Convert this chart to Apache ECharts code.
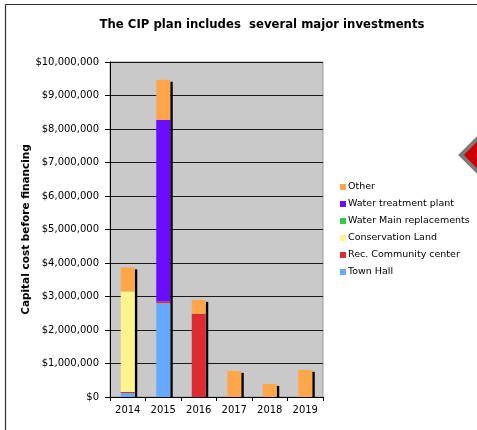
<!DOCTYPE html>
<html>
<head>
<meta charset="utf-8">
<script src="https://cdn.jsdelivr.net/npm/echarts@6/dist/echarts.min.js"></script>
<style>
  html, body { margin: 0; padding: 0; background: #fff; }
  #chart { width: 477px; height: 430px; }
</style>
</head>
<body>
<div id="chart"></div>
<script>
// Capital plan by year, split by project
const years = ['2014', '2015', '2016', '2017', '2018', '2019'];
const townHall         = [120000, 2800000, 0, 0, 0, 0];
const recCenter        = [30000, 50000, 2480000, 0, 0, 0];
const conservationLand = [3000000, 0, 0, 0, 0, 0];
const waterMain        = [0, 0, 0, 0, 0, 0];
const waterPlant       = [0, 5420000, 0, 0, 0, 0];
const other            = [720000, 1200000, 420000, 780000, 390000, 810000];

const yTicks = { min: 0, max: 10000000, step: 1000000 };

const seriesDefs = [
  { name: 'Town Hall', data: townHall, color: '#66AAFF' },
  { name: 'Rec. Community center', data: recCenter, color: '#DD2B33' },
  { name: 'Conservation Land', data: conservationLand, color: '#FFF38C' },
  { name: 'Water Main replacements', data: waterMain, color: '#33CC44' },
  { name: 'Water treatment plant', data: waterPlant, color: '#6A0DFF' },
  { name: 'Other', data: other, color: '#FFA64B' }
];

// stack totals used for the drop shadow behind each column
const totals = years.map((_, i) => seriesDefs.reduce((s, d) => s + d.data[i], 0));
const BAR_W = 14;

const chart = echarts.init(document.getElementById('chart'), null, { renderer: 'canvas' });

const fontFamily = '"DejaVu Sans", Verdana, sans-serif';

const option = {
  animation: false,
  backgroundColor: '#fff',
  title: {
    text: 'The CIP plan includes  several major investments',
    left: 257, top: 14, textAlign: 'center',
    textStyle: { fontFamily, fontSize: 11.7, fontWeight: 'bold', color: '#000' }
  },
  legend: {
    orient: 'vertical',
    left: 335, top: 176,
    itemWidth: 6, itemHeight: 6, itemGap: 5,
    icon: 'rect',
    data: seriesDefs.map(d => d.name).reverse(),
    textStyle: { fontFamily, fontSize: 9.5, color: '#000', lineHeight: 12, padding: [0, 0, 0, -3] }
  },
  grid: {
    left: 110, right: 154, top: 62, bottom: 33,
    show: true, backgroundColor: '#C9C9C9', borderColor: '#999', borderWidth: 1
  },
  xAxis: {
    type: 'category',
    data: years,
    axisLine: { lineStyle: { color: '#000', width: 1 } },
    axisTick: { show: true, length: 4, alignWithLabel: false, lineStyle: { color: '#000' } },
    axisLabel: { fontFamily, fontSize: 10, color: '#000', margin: 8 }
  },
  yAxis: {
    type: 'value',
    min: yTicks.min, max: yTicks.max, interval: yTicks.step,
    name: 'Capital cost before financing',
    nameLocation: 'middle', nameGap: 77,
    nameTextStyle: { fontFamily, fontSize: 10.5, fontWeight: 'bold', color: '#000' },
    axisLine: { show: true, lineStyle: { color: '#000' } },
    axisTick: { show: true, length: 5, lineStyle: { color: '#000' } },
    axisLabel: {
      fontFamily, fontSize: 10, color: '#000', margin: 11,
      formatter: v => '$' + v.toLocaleString('en-US')
    },
    splitLine: { show: true, lineStyle: { color: '#1a1a1a', width: 1 } }
  },
  graphic: [
    { type: 'line', shape: { x1: 5.5, y1: 4.5, x2: 477, y2: 4.5 }, style: { stroke: '#333', lineWidth: 1.2 }, z: 10 },
    { type: 'line', shape: { x1: 5.5, y1: 4.5, x2: 5.5, y2: 430 }, style: { stroke: '#333', lineWidth: 1.2 }, z: 10 },
    { type: 'polygon', shape: { points: [[461, 155], [484, 132], [507, 155], [484, 178]] },
      style: { fill: '#CC0000', stroke: '#7A7A7A', lineWidth: 4 }, z: 10 }
  ],
  series: [
    {
      type: 'custom',
      name: 'shadow',
      z: 1,
      silent: true,
      data: totals.map((t, i) => [i, t]),
      renderItem: (params, api) => {
        const top = api.coord([api.value(0), api.value(1)]);
        const base = api.coord([api.value(0), 0]);
        const x = top[0] + BAR_W / 2;
        return {
          type: 'rect',
          shape: { x: x, y: top[1] + 2, width: 2.5, height: base[1] - top[1] - 2 },
          style: { fill: '#000' }
        };
      }
    },
    ...seriesDefs.map(d => ({
      type: 'bar',
      name: d.name,
      stack: 'total',
      z: 2,
      barWidth: BAR_W,
      data: d.data,
      itemStyle: { color: d.color },
      emphasis: { disabled: true }
    }))
  ]
};

chart.setOption(option);
</script>
</body>
</html>
